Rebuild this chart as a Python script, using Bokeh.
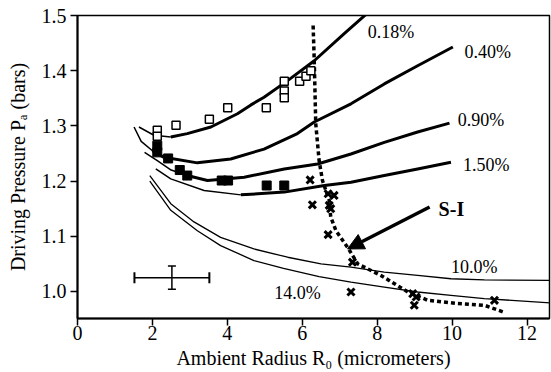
from bokeh.plotting import figure
from bokeh.models import Range1d, FixedTicker, Arrow, NormalHead, Whisker, TeeHead, ColumnDataSource, CustomJSTickFormatter
from bokeh.core.properties import value
from bokeh.embed import file_html
from bokeh.resources import INLINE

# ---- data ----
c018_x = [1.64, 2.04, 2.49, 2.93, 3.56, 4.27, 4.63, 4.98, 5.61, 6.32, 7.12, 7.75]
c018_y = [1.298, 1.283, 1.280, 1.286, 1.298, 1.322, 1.338, 1.352, 1.382, 1.418, 1.467, 1.505]

c040_x = [1.51, 1.70, 2.00, 2.31, 3.20, 4.09, 4.98, 5.87, 6.32, 7.30, 8.19, 9.08, 10.02]
c040_y = [1.298, 1.272, 1.255, 1.243, 1.233, 1.240, 1.258, 1.286, 1.307, 1.340, 1.376, 1.409, 1.443]

c090_x = [1.79, 2.13, 2.50, 2.93, 3.47, 4.45, 5.52, 6.41, 7.30, 8.19, 9.08, 9.93]
c090_y = [1.252, 1.237, 1.220, 1.210, 1.201, 1.207, 1.222, 1.231, 1.249, 1.270, 1.289, 1.305]

c150_x = [2.09, 2.49, 3.38, 4.36, 5.52, 6.59, 7.30, 8.19, 9.08, 9.97]
c150_y = [1.222, 1.204, 1.183, 1.175, 1.180, 1.192, 1.198, 1.210, 1.222, 1.234]

c10_x = [1.93, 2.49, 3.11, 3.82, 4.71, 5.61, 6.50, 7.30, 8.19, 9.08, 9.97, 10.86, 12.70]
c10_y = [1.210, 1.159, 1.126, 1.098, 1.077, 1.062, 1.050, 1.044, 1.035, 1.029, 1.023, 1.021, 1.020]

c14_x = [1.93, 2.49, 3.20, 3.82, 4.71, 5.50, 6.45, 7.30, 8.19, 9.08, 9.97, 10.86, 12.70]
c14_y = [1.200, 1.147, 1.110, 1.083, 1.056, 1.042, 1.027, 1.017, 1.008, 0.999, 0.993, 0.987, 0.979]

open_x = [2.13, 2.13, 2.63, 3.52, 4.01, 5.04, 5.52, 5.52, 5.52, 5.93, 6.10, 6.23]
open_y = [1.292, 1.281, 1.301, 1.312, 1.333, 1.333, 1.381, 1.363, 1.351, 1.381, 1.390, 1.400]

fill_x = [2.13, 2.13, 2.42, 2.73, 2.93, 3.85, 4.02, 5.05, 5.52]
fill_y = [1.264, 1.252, 1.241, 1.220, 1.210, 1.201, 1.201, 1.192, 1.192]

cross_x = [6.21, 6.27, 6.69, 6.85, 6.72, 6.76, 6.69, 7.34, 7.30, 8.95, 9.04, 8.99, 11.13]
cross_y = [1.202, 1.157, 1.177, 1.174, 1.156, 1.150, 1.103, 1.053, 0.999, 0.996, 0.990, 0.975, 0.984]

si_x = [6.29, 6.32, 6.36, 6.45, 6.54, 6.72, 6.76, 6.90, 7.21, 7.48, 8.10, 8.82, 9.35, 10.15, 10.86, 11.40]
si_y = [1.482, 1.418, 1.304, 1.237, 1.201, 1.165, 1.135, 1.110, 1.080, 1.050, 1.029, 0.999, 0.984, 0.978, 0.975, 0.962]

curve_labels = ["0.18%", "0.40%", "0.90%", "1.50%", "10.0%", "14.0%"]
label_x = [7.75, 10.33, 10.15, 10.29, 9.97, 5.25]
label_y = [1.471, 1.434, 1.311, 1.230, 1.045, 0.997]

err_x, err_y = [2.52], [1.025]
err_dx, err_dy = 1.0, 0.021

arrow_from = (9.40, 1.153)
arrow_to = (7.21, 1.077)
si_label = "S-I"
si_label_pos = (9.64, 1.150)

x_ticks = [0, 2, 4, 6, 8, 10, 12]
y_ticks = [1.0, 1.1, 1.2, 1.3, 1.4, 1.5]

SERIF = "Liberation Serif"

p = figure(width=551, height=372, output_backend="svg", toolbar_location=None,
           x_range=Range1d(0, 12.6), y_range=Range1d(0.951, 1.5),
           min_border_left=77, min_border_right=2, min_border_top=15, min_border_bottom=54)
p.background_fill_color = "white"
p.border_fill_color = "white"
p.grid.visible = False
p.outline_line_color = "black"
p.outline_line_width = 1.5

for ax in (p.xaxis[0], p.yaxis[0]):
    ax.axis_line_width = 2
    ax.axis_line_color = "black"
    ax.major_tick_line_width = 1.5
    ax.major_tick_out = 7
    ax.major_tick_in = 0
    ax.minor_tick_out = 0
    ax.minor_tick_in = 0
    ax.major_label_text_font = SERIF
    ax.major_label_text_font_size = "20px"
    ax.major_label_text_color = "black"
    ax.axis_label_text_font = SERIF
    ax.axis_label_text_font_size = "20px"
    ax.axis_label_text_font_style = "normal"
    ax.axis_label_text_color = "black"

p.xaxis.ticker = FixedTicker(ticks=x_ticks)
p.yaxis.ticker = FixedTicker(ticks=y_ticks)
p.yaxis.formatter = CustomJSTickFormatter(code="return tick.toFixed(1);")
p.xaxis.axis_label = "Ambient Radius R\u2080 (micrometers)"
p.yaxis.axis_label = "Driving Pressure P\u2090 (bars)"
p.xaxis.major_label_standoff = 0
p.xaxis.axis_label_standoff = 4
p.yaxis.major_label_standoff = 4
p.yaxis.axis_label_standoff = 10

# theory curves: thin start, thick body
for cx, cy, k in [(c018_x, c018_y, 2), (c040_x, c040_y, 2), (c090_x, c090_y, 3), (c150_x, c150_y, 3)]:
    p.line(cx[:k + 1], cy[:k + 1], line_color="black", line_width=1.5)
    p.line(cx[k:], cy[k:], line_color="black", line_width=3)
for cx, cy in [(c10_x, c10_y), (c14_x, c14_y)]:
    p.line(cx, cy, line_color="black", line_width=1.3)

# S-I threshold dotted line
p.line(si_x, si_y, line_color="black", line_width=3.5, line_dash="4 3")

# data points
p.scatter(open_x, open_y, marker="square", size=8, fill_color="white", line_color="black", line_width=1.5)
p.scatter(fill_x, fill_y, marker="square", size=9, fill_color="black", line_color="black", line_width=1)
p.scatter(cross_x, cross_y, marker="x", size=10, line_color="black", line_width=3)

# curve labels
p.text(label_x, label_y, text=curve_labels, text_font=value(SERIF), text_font_size="18px",
       text_baseline="middle", text_align="left", text_color="black")
p.text([si_label_pos[0]], [si_label_pos[1]], text=[si_label], text_font=value(SERIF), text_font_size="20px",
       text_font_style="bold", text_baseline="middle", text_align="left", text_color="black")

# arrow
p.add_layout(Arrow(end=NormalHead(size=16, fill_color="black", line_color="black"),
                   x_start=arrow_from[0], y_start=arrow_from[1], x_end=arrow_to[0], y_end=arrow_to[1],
                   line_width=3.5, line_color="black"))

# error bar
es = ColumnDataSource(dict(x=err_x, y=err_y,
                           xl=[v - err_dx for v in err_x], xu=[v + err_dx for v in err_x],
                           yl=[v - err_dy for v in err_y], yu=[v + err_dy for v in err_y]))
p.add_layout(Whisker(source=es, base="y", lower="xl", upper="xu", dimension="width", line_width=1.5,
                     upper_head=TeeHead(size=11, line_width=2), lower_head=TeeHead(size=11, line_width=2)))
p.add_layout(Whisker(source=es, base="x", lower="yl", upper="yu", dimension="height", line_width=1.5,
                     upper_head=TeeHead(size=8, line_width=1.5), lower_head=TeeHead(size=8, line_width=1.5)))

open("out.html", "w").write(file_html(p, INLINE))
